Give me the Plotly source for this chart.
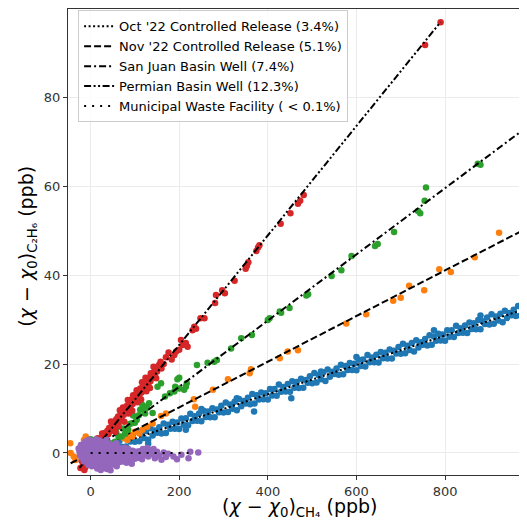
import plotly.graph_objects as go

# ---------------- data ----------------
series_names = [
    "Oct '22 Controlled Release (3.4%)",
    "Nov '22 Controlled Release (5.1%)",
    "San Juan Basin Well (7.4%)",
    "Permian Basin Well (12.3%)",
    "Municipal Waste Facility ( < 0.1%)",
]
series_colors = ["#1f77b4", "#ff7f0e", "#2ca02c", "#d62728", "#9467bd"]

x_title = "(<i>χ</i> − <i>χ</i><sub>0</sub>)<sub>CH₄</sub> (ppb)"
y_title = "(<i>χ</i> − <i>χ</i><sub>0</sub>)<sub>C₂H₆</sub> (ppb)"

# fitted enhancement ratios (slope, intercept) and x-extent of the fit lines
fit_slope = [0.0330, 0.0513, 0.0744, 0.1230, 0.0000]
fit_intercept = [0.0, 0.0, 0.0, -0.3, 0.0]
fit_xmin = [90, -45, -5, -25, 0]
fit_xmax = [995, 995, 995, 790, 232]

blue_pts = [
    (60, 1.48), (70, 1.41), (80, 1.44), (90, 2.57), (100, 2.50), (110, 2.63), (120, 3.36), (130, 2.99),
    (140, 3.92), (150, 4.55), (160, 4.38), (170, 4.51), (180, 5.44), (190, 5.47), (200, 5.40), (210, 6.33),
    (220, 6.26), (230, 7.19), (240, 7.22), (250, 7.15), (260, 8.08), (270, 8.01), (280, 8.04), (290, 9.17),
    (300, 9.10), (310, 9.23), (320, 9.96), (330, 9.59), (340, 10.52), (350, 11.15), (360, 10.98), (370, 11.11),
    (380, 12.04), (390, 12.07), (400, 12.00), (410, 12.93), (420, 12.86), (430, 13.79), (440, 13.82), (450, 13.75),
    (460, 14.68), (470, 14.61), (480, 14.64), (490, 15.77), (500, 15.70), (510, 15.83), (520, 16.56), (530, 16.19),
    (540, 17.12), (550, 17.75), (560, 17.58), (570, 17.71), (580, 18.64), (590, 18.67), (600, 18.60), (610, 19.53),
    (620, 19.46), (630, 20.39), (640, 20.42), (650, 20.35), (660, 21.28), (670, 21.21), (680, 21.24), (690, 22.37),
    (700, 22.30), (710, 22.43), (720, 23.16), (730, 22.79), (740, 23.72), (750, 24.35), (760, 24.18), (770, 24.31),
    (780, 25.24), (790, 25.27), (800, 25.20), (810, 26.13), (820, 26.06), (830, 26.99), (840, 27.02), (850, 26.95),
    (860, 27.88), (870, 27.81), (880, 27.84), (890, 28.97), (900, 28.90), (910, 29.03), (920, 29.76), (930, 29.39),
    (940, 30.32), (950, 30.95), (960, 30.78), (970, 30.91), (980, 31.84), (990, 31.87),
    (65, 2.74), (75, 3.47), (85, 3.20), (95, 4.03), (105, 4.76), (115, 4.29), (125, 4.92), (135, 5.55),
    (145, 5.08), (155, 5.81), (165, 6.64), (175, 6.37), (185, 7.00), (195, 6.83), (205, 7.76), (215, 7.79),
    (225, 8.82), (235, 8.25), (245, 8.88), (255, 9.51), (265, 9.34), (275, 10.07), (285, 9.80), (295, 10.63),
    (305, 11.36), (315, 10.89), (325, 11.52), (335, 12.15), (345, 11.68), (355, 12.41), (365, 13.24), (375, 12.97),
    (385, 13.60), (395, 13.43), (405, 14.36), (415, 14.39), (425, 15.42), (435, 14.85), (445, 15.48), (455, 16.11),
    (465, 15.94), (475, 16.67), (485, 16.40), (495, 17.23), (505, 17.96), (515, 17.49), (525, 18.12), (535, 18.75),
    (545, 18.28), (555, 19.01), (565, 19.84), (575, 19.57), (585, 20.20), (595, 20.03), (605, 20.96), (615, 20.99),
    (625, 22.02), (635, 21.45), (645, 22.08), (655, 22.71), (665, 22.54), (675, 23.27), (685, 23.00), (695, 23.83),
    (705, 24.56), (715, 24.09), (725, 24.72), (735, 25.35), (745, 24.88), (755, 25.61), (765, 26.44), (775, 26.17),
    (785, 26.80), (795, 26.63), (805, 27.56), (815, 27.59), (825, 28.62), (835, 28.05), (845, 28.68), (855, 29.31),
    (865, 29.14), (875, 29.87), (885, 29.60), (895, 30.43), (905, 31.16), (915, 30.69), (925, 31.32), (935, 31.95),
    (945, 31.48), (955, 32.21), (965, 33.04), (975, 32.77), (985, 33.40),
    (453, 12.3), (369, 9.3), (215, 5.2), (600, 21.6), (775, 27.6), (880, 30.9), (130, 2.1), (250, 9.9),
    (45, 1.2), (52, 1.9), (330, 12.3), (520, 18.3), (995, 32.9), (992, 33.6),
]

orange_pts = [
    (-46, 2.2), (-45, 0.0), (-38, -0.8), (-34, -1.6), (-11, 3.7), (-15, 2.9), (83, 2.9), (94, 3.7),
    (110, 4.4), (117, 5.2), (128, 5.9), (100, 4.8), (90, 4.0), (75, 3.3), (140, 6.6), (159, 8.3),
    (170, 8.9), (233, 12.1), (236, 10.4), (276, 14.2), (310, 16.6), (359, 17.9), (362, 18.8), (427, 21.3),
    (445, 22.8), (468, 23.1), (577, 29.1), (622, 31.2), (683, 34.2), (700, 34.9), (719, 37.6), (753, 36.6),
    (787, 41.3), (813, 40.7), (867, 44.0), (922, 49.5), (984, 52.5),
]

green_pts = [
    (0, 3.1), (3, -2.7), (20, 1.5), (30, 2.0), (44, 2.2), (48, 1.8), (55, 2.5), (63, 3.7), (63, 5.9),
    (70, 3.7), (70, 8.2), (74, 5.5), (78, 4.4), (82, 9.3), (88, 6.5), (93, 6.7), (100, 6.8), (104, 7.4),
    (104, 7.8), (108, 13.4), (109, 8.5), (112, 9.7), (112, 14.2), (117, 10.8), (119, 10.0), (123, 8.9),
    (125, 10.0), (127, 10.4), (132, 11.2), (140, 9.0), (151, 14.9), (159, 15.7), (168, 12.7), (179, 13.4),
    (189, 13.8), (191, 14.9), (196, 16.6), (200, 16.9), (200, 14.5), (211, 14.2), (215, 14.9), (217, 15.7),
    (240, 19.8), (264, 20.3), (279, 20.5), (285, 20.9), (317, 23.5), (340, 25.8), (364, 26.5), (400, 29.9),
    (404, 30.3), (427, 31.8), (430, 31.5), (449, 32.6), (487, 35.4), (491, 35.7), (544, 39.8), (566, 41.1),
    (589, 44.3), (642, 46.5), (648, 47.0), (685, 49.7), (739, 54.4), (744, 53.9), (754, 56.7), (757, 59.7),
    (874, 65.0), (880, 64.8), (58, 4.6), (85, 5.2), (96, 8.4), (66, 7.0),
]

red_pts = [
    (-23, -3.4), (-18, -3.0), (-15, -2.2), (-12, -3.2), (-10, -1.5), (-8, -2.6), (-5, -0.8), (-3, -1.9),
    (0, 0.2), (2, -1.0), (5, 0.5), (8, 1.4), (10, 0.3), (12, 1.8), (15, 1.2), (18, 2.6), (20, 1.6),
    (22, 3.0), (25, 2.4), (28, 3.8), (30, 2.9), (32, 4.5), (35, 3.6), (38, 5.0), (40, 4.2), (42, 5.6),
    (45, 4.9), (48, 6.3), (50, 5.4), (52, 7.0), (55, 6.1), (58, 7.6), (60, 6.6), (62, 8.2), (65, 7.3),
    (68, 8.8), (70, 7.9), (72, 9.4), (75, 8.6), (78, 10.0), (80, 9.1), (82, 10.6), (85, 9.8), (88, 11.3),
    (90, 10.4), (92, 12.0), (95, 11.0), (98, 12.6), (100, 11.6), (102, 13.2), (105, 12.3), (108, 13.8),
    (110, 12.9), (112, 14.5), (115, 13.6), (118, 15.0), (120, 14.1), (122, 15.8), (125, 14.8), (128, 16.3),
    (130, 15.4), (133, 17.0), (135, 16.1), (138, 17.6), (140, 16.9), (143, 18.2), (147, 19.0), (151, 19.4),
    (63, 6.0), (73, 10.2), (86, 8.9), (96, 13.0), (106, 11.4), (116, 15.9), (126, 13.9), (136, 17.9),
    (145, 17.5), (150, 18.3), (155, 19.9), (158, 20.5), (165, 20.0), (170, 21.5), (183, 21.0), (189, 22.0),
    (193, 22.8), (208, 24.3), (215, 24.7), (219, 23.9), (230, 27.6), (234, 28.4), (238, 27.9), (248, 30.3),
    (257, 30.3), (281, 33.7), (283, 35.5), (297, 36.6), (303, 35.9), (325, 38.7), (350, 41.4), (353, 42.1),
    (356, 42.9), (374, 45.4), (378, 46.2), (381, 46.7), (429, 51.5), (451, 53.9), (468, 56.0), (473, 56.7),
    (481, 58.0), (755, 91.7), (790, 96.8),
    (-20, -1.8), (-14, -3.8), (6, -1.5), (16, 3.3), (26, 4.4), (36, 2.5), (46, 7.1), (56, 4.8),
    (66, 9.6), (76, 7.0), (84, 11.9), (94, 9.5), (104, 14.1), (114, 12.0), (124, 16.9), (134, 14.6),
    (142, 19.4), (148, 16.8), (160, 19.0), (176, 22.6), (200, 23.2), (204, 25.4),
]

purple_pts = [
    (-12, 2.6), (-4, 3.0), (4, 2.7), (12, 3.1), (20, 2.8), (28, 2.5), (36, 2.9),
    (-22, 1.8), (-14, 2.2), (-6, 1.9), (2, 2.3), (10, 2.0), (18, 1.7), (26, 2.2), (34, 1.9), (42, 2.1),
    (50, 1.8), (58, 2.2),
    (-27, 1.0), (-19, 1.4), (-11, 1.1), (-3, 1.3), (5, 0.9), (13, 1.4), (21, 1.1), (29, 1.3), (37, 1.0),
    (45, 1.4), (53, 1.1), (61, 1.3), (69, 1.0), (77, 1.2), (85, 0.9),
    (-25, 0.3), (-17, 0.6), (-9, 0.2), (-1, 0.5), (7, 0.3), (15, 0.6), (23, 0.2), (31, 0.5), (39, 0.4),
    (47, 0.6), (55, 0.2), (63, 0.5), (71, 0.3), (79, 0.6), (87, 0.2), (95, 0.5), (103, 0.3), (110, 0.4),
    (-24, -0.5), (-16, -0.2), (-8, -0.6), (0, -0.3), (8, -0.5), (16, -0.2), (24, -0.6), (32, -0.4),
    (40, -0.2), (48, -0.5), (56, -0.3), (64, -0.6), (72, -0.2), (80, -0.5), (88, -0.4), (96, -0.2),
    (104, -0.6), (112, -0.3), (120, -0.5),
    (-20, -1.1), (-12, -1.4), (-4, -1.0), (4, -1.3), (12, -1.2), (20, -1.5), (28, -1.0), (36, -1.3),
    (44, -1.1), (52, -1.4), (60, -1.0), (68, -1.3), (76, -1.2), (84, -1.5), (92, -1.0), (100, -1.3),
    (108, -1.1), (116, -1.4),
    (-15, -1.9), (-7, -2.2), (1, -1.8), (9, -2.1), (17, -2.3), (25, -1.9), (33, -2.2), (41, -2.0),
    (49, -1.8), (57, -2.3), (65, -2.0), (73, -1.9), (81, -2.2), (90, -2.0),
    (-5, -2.7), (3, -3.0), (11, -2.6), (19, -2.9), (27, -3.1), (35, -2.7), (43, -2.9), (51, -2.6),
    (59, -3.0), (93, -2.4),
    (15, -3.5), (23, -3.8), (31, -3.4), (37, -3.6), (45, -3.9),
    (125, 0.2), (130, -0.8), (135, 0.6), (140, -0.3), (145, -1.2), (150, 0.3), (155, -0.6), (160, -1.5),
    (165, 0.1), (170, -0.9), (175, -0.2), (187, -0.8), (195, -1.4), (205, -0.4), (221, -1.2), (225, 0.3),
    (243, 0.1), (128, 1.1), (118, 0.9), (142, 0.9),
]

x_ticks = [0, 200, 400, 600, 800]
y_ticks = [0, 20, 40, 60, 80]
x_range = [-51, 985]
y_range = [-4.95, 99.8]

# ---------------- styles ----------------
line_dashes = [
    "2px,2.5px",
    "7px,3px",
    "7px,3px,2px,3px",
    "7px,2.5px,2px,2.5px,2px,2.5px",
    "2px,6px",
]
all_pts = [blue_pts, orange_pts, green_pts, red_pts, purple_pts]
FONT = "DejaVu Sans"

fig = go.Figure()
for i, pts in enumerate(all_pts):
    xs = [p[0] for p in pts]
    ys = [p[1] for p in pts]
    fig.add_trace(go.Scatter(
        x=xs, y=ys, mode="markers", showlegend=False, hoverinfo="skip",
        marker=dict(color=series_colors[i], size=6.5, line=dict(width=0)),
    ))
    lx = [fit_xmin[i], fit_xmax[i]]
    ly = [fit_intercept[i] + fit_slope[i] * v for v in lx]
    fig.add_trace(go.Scatter(
        x=lx, y=ly, mode="lines", name=series_names[i],
        line=dict(color="black", width=2, dash=line_dashes[i]),
    ))

axis_common = dict(
    showgrid=True, gridcolor="#ebebeb", gridwidth=1, automargin=False,
    zeroline=False, showline=True, linecolor="#333333", linewidth=1.2,
    ticks="outside", ticklen=4, tickcolor="#333333", tickwidth=1,
    tickfont=dict(family=FONT, size=13, color="#333333"),
)

# the page body adds an 8px offset, so the figure is 8px smaller than the window
fig.update_layout(
    width=519, height=514,
    margin=dict(l=60, r=0, t=1, b=47),
    paper_bgcolor="white", plot_bgcolor="white",
    font=dict(family=FONT, color="black"),
    xaxis=dict(range=x_range, tickvals=x_ticks, mirror=True, **axis_common),
    yaxis=dict(range=y_range, tickvals=y_ticks, **axis_common),
    legend=dict(
        x=0.022, y=0.997, xanchor="left", yanchor="top",
        bgcolor="rgba(255,255,255,0.85)", bordercolor="#cccccc", borderwidth=1,
        font=dict(family=FONT, size=13, color="black"),
        itemwidth=30, tracegroupgap=0,
    ),
    annotations=[
        dict(text=x_title, xref="paper", yref="paper", x=0.505, y=0, yshift=-47,
             xanchor="center", yanchor="bottom", showarrow=False,
             font=dict(family=FONT, size=19, color="black")),
        dict(text=y_title, xref="paper", yref="paper", x=0, xshift=-40, y=0.49,
             xanchor="center", yanchor="middle", textangle=-90, showarrow=False,
             font=dict(family=FONT, size=19, color="black")),
    ],
)

fig.write_html("out.html")
